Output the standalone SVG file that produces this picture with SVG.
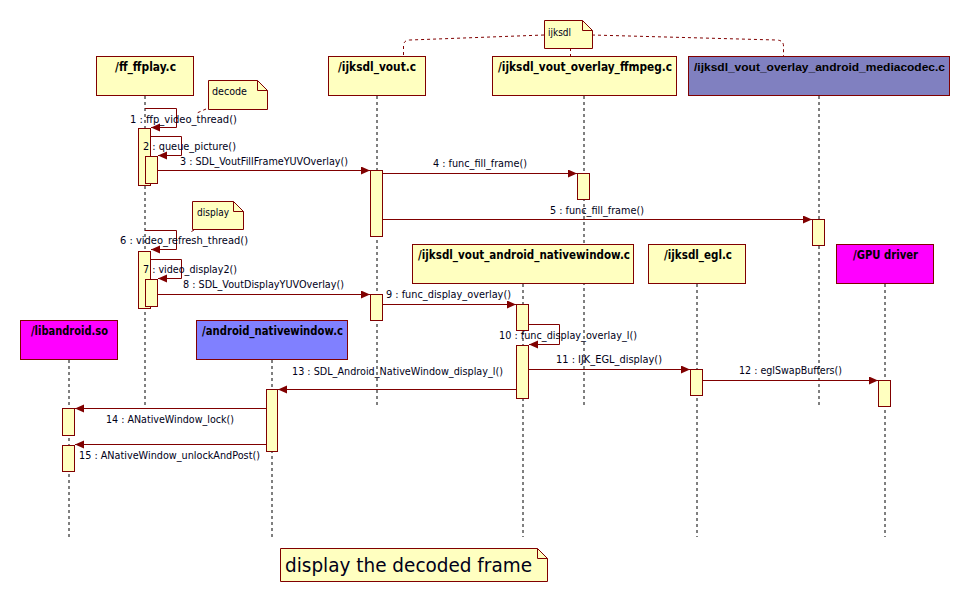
<svg xmlns="http://www.w3.org/2000/svg" width="970" height="602" viewBox="0 0 970 602">
<defs>
<marker id="ah" markerUnits="userSpaceOnUse" markerWidth="10" markerHeight="10" refX="9" refY="4" orient="auto">
<path d="M0,0 L9,4 L0,8 z" fill="#800000"/>
</marker>
<style>
.hdr{stroke:#800000;stroke-width:1}
.y{fill:#FFFFC0}
.mc{fill:#8080C0}
.an{fill:#8080FF}
.mg{fill:#FF00FF}
.ht{font-family:Tahoma,"DejaVu Sans","Liberation Sans",sans-serif;font-weight:bold;font-size:12px;fill:#000}
.hs{font-family:"Liberation Sans",Arial,sans-serif;font-size:11px}
.ll{stroke:#000;stroke-width:1;stroke-dasharray:3,3;fill:none}
.act{fill:#FFFFC0;stroke:#800000;stroke-width:1}
.msg{stroke:#800000;stroke-width:1;fill:none;marker-end:url(#ah)}
.lb{font-family:Tahoma,"DejaVu Sans","Liberation Sans",sans-serif;font-size:11px;fill:#000018}
.note{fill:#FFFFC0;stroke:#800000;stroke-width:1}
.nl{stroke:#800000;stroke-width:1;stroke-dasharray:3,3;fill:none}
</style>
</defs>
<rect width="970" height="602" fill="#fff"/>

<g id="lifelines">
<line class="ll" x1="145" y1="96" x2="145" y2="405"/>
<line class="ll" x1="377" y1="96" x2="377" y2="405"/>
<line class="ll" x1="584" y1="96" x2="584" y2="405"/>
<line class="ll" x1="819" y1="96" x2="819" y2="405"/>
<line class="ll" x1="523" y1="284" x2="523" y2="537"/>
<line class="ll" x1="697" y1="284" x2="697" y2="537"/>
<line class="ll" x1="885" y1="284" x2="885" y2="537"/>
<line class="ll" x1="69" y1="360" x2="69" y2="537"/>
<line class="ll" x1="272" y1="360" x2="272" y2="537"/>
</g>

<g id="n_ffplay"><rect class="hdr y" x="96.5" y="56.5" width="97" height="39"/><text class="ht" x="115" y="71" textLength="61" lengthAdjust="spacingAndGlyphs">/ff_ffplay.c</text></g>
<g id="n_vout"><rect class="hdr y" x="328.5" y="56.5" width="97" height="39"/><text class="ht" x="338" y="71" textLength="78" lengthAdjust="spacingAndGlyphs">/ijksdl_vout.c</text></g>
<g id="n_ffmpeg"><rect class="hdr y" x="492.5" y="56.5" width="184" height="39"/><text class="ht" x="498" y="71" textLength="174" lengthAdjust="spacingAndGlyphs">/ijksdl_vout_overlay_ffmpeg.c</text></g>
<g id="n_mediacodec"><rect class="hdr mc" x="688.5" y="56.5" width="261" height="39"/><text class="ht hs" x="694" y="71" textLength="251" lengthAdjust="spacingAndGlyphs">/ijksdl_vout_overlay_android_mediacodec.c</text></g>
<g id="n_nativewindow"><rect class="hdr y" x="412.5" y="244.5" width="221" height="39"/><text class="ht" x="418" y="259" textLength="212" lengthAdjust="spacingAndGlyphs">/ijksdl_vout_android_nativewindow.c</text></g>
<g id="n_egl"><rect class="hdr y" x="648.5" y="244.5" width="97" height="39"/><text class="ht" x="664" y="259" textLength="68" lengthAdjust="spacingAndGlyphs">/ijksdl_egl.c</text></g>
<g id="n_gpu"><rect class="hdr mg" x="836.5" y="244.5" width="97" height="39"/><text class="ht" x="853" y="259" textLength="65" lengthAdjust="spacingAndGlyphs">/GPU driver</text></g>
<g id="n_libandroid"><rect class="hdr mg" x="20.5" y="320.5" width="97" height="39"/><text class="ht" x="31" y="335" textLength="77" lengthAdjust="spacingAndGlyphs">/libandroid.so</text></g>
<g id="n_android_nativewindow"><rect class="hdr an" x="196.5" y="320.5" width="151" height="39"/><text class="ht" x="202" y="335" textLength="141" lengthAdjust="spacingAndGlyphs">/android_nativewindow.c</text></g>

<g id="note_ijksdl">
<path class="note" d="M544.5,20.5 H582.5 L592.5,30.5 V48.5 H544.5 Z"/>
<path d="M582.5,20.5 V30.5 H592.5" fill="none" stroke="#800000"/>
<text class="lb" x="548" y="36" textLength="23" lengthAdjust="spacingAndGlyphs">ijksdl</text>
</g>
<g id="note_decode">
<path class="note" d="M208.5,80.5 H257.5 L267.5,90.5 V109.5 H208.5 Z"/>
<path d="M257.5,80.5 V90.5 H267.5" fill="none" stroke="#800000"/>
<text class="lb" x="212" y="95" textLength="35" lengthAdjust="spacingAndGlyphs">decode</text>
</g>
<g id="note_display">
<path class="note" d="M192.5,201.5 H233.5 L243.5,211.5 V229.5 H192.5 Z"/>
<path d="M233.5,201.5 V211.5 H243.5" fill="none" stroke="#800000"/>
<text class="lb" x="197" y="216" textLength="32" lengthAdjust="spacingAndGlyphs">display</text>
</g>
<g id="note_frame">
<path class="note" d="M280.5,548.5 H537.5 L547.5,558.5 V581.5 H280.5 Z"/>
<path d="M537.5,548.5 V558.5 H547.5" fill="none" stroke="#800000"/>
<text x="285" y="572" font-family="Tahoma,'DejaVu Sans','Liberation Sans',sans-serif" font-size="19" fill="#000018" textLength="247" lengthAdjust="spacingAndGlyphs">display the decoded frame</text>
</g>

<g id="note_links">
<path class="nl" d="M544,35 L410,40 Q403.5,40 403.5,46 V56"/>
<path class="nl" d="M592,35 L776,40 Q783.5,40 783.5,46 V56"/>
<path class="nl" d="M570.5,48 V56"/>
<path class="nl" d="M206,109 L197,113"/>
<path class="nl" d="M194,230 L189,233"/>
</g>

<g id="activations">
<rect class="act" x="138.5" y="128.5" width="12" height="57"/>
<rect class="act" x="145.5" y="156.5" width="12" height="27"/>
<rect class="act" x="370.5" y="170.5" width="12" height="66"/>
<rect class="act" x="577.5" y="173.5" width="12" height="26"/>
<rect class="act" x="812.5" y="219.5" width="12" height="26"/>
<rect class="act" x="138.5" y="251.5" width="12" height="57"/>
<rect class="act" x="145.5" y="279.5" width="12" height="27"/>
<rect class="act" x="370.5" y="294.5" width="12" height="26"/>
<rect class="act" x="516.5" y="304.5" width="12" height="26"/>
<rect class="act" x="516.5" y="345.5" width="12" height="53"/>
<rect class="act" x="690.5" y="369.5" width="12" height="26"/>
<rect class="act" x="878.5" y="380.5" width="12" height="26"/>
<rect class="act" x="266.5" y="389.5" width="11" height="62"/>
<rect class="act" x="62.5" y="408.5" width="12" height="27"/>
<rect class="act" x="62.5" y="445.5" width="12" height="26"/>
</g>

<g id="connectors">
<path class="msg" d="M145,108.5 H176.5 V127.5 H151"/>
<path class="msg" d="M151,136.5 H181.5 V155.5 H158"/>
<path class="msg" d="M158,170.5 H370"/>
<path class="msg" d="M383,173.5 H577"/>
<path class="msg" d="M383,219.5 H812"/>
<path class="msg" d="M145,230.5 H176.5 V249.5 H151"/>
<path class="msg" d="M151,259.5 H181.5 V278.5 H158"/>
<path class="msg" d="M158,294.5 H370"/>
<path class="msg" d="M383,304.5 H516"/>
<path class="msg" d="M529,324.5 H559.5 V344.5 H529"/>
<path class="msg" d="M529,369.5 H690"/>
<path class="msg" d="M703,380.5 H878"/>
<path class="msg" d="M516,389.5 H278"/>
<path class="msg" d="M266,408.5 H75"/>
<path class="msg" d="M266,444.5 H75"/>
</g>

<g id="labels">
<text class="lb" x="130" y="123" textLength="107" lengthAdjust="spacingAndGlyphs">1 : ffp_video_thread()</text>
<text class="lb" x="143" y="150" textLength="93" lengthAdjust="spacingAndGlyphs">2 : queue_picture()</text>
<text class="lb" x="180" y="165" textLength="168" lengthAdjust="spacingAndGlyphs">3 : SDL_VoutFillFrameYUVOverlay()</text>
<text class="lb" x="433" y="167" textLength="94" lengthAdjust="spacingAndGlyphs">4 : func_fill_frame()</text>
<text class="lb" x="550" y="214" textLength="94" lengthAdjust="spacingAndGlyphs">5 : func_fill_frame()</text>
<text class="lb" x="120" y="244" textLength="128" lengthAdjust="spacingAndGlyphs">6 : video_refresh_thread()</text>
<text class="lb" x="143" y="273" textLength="94" lengthAdjust="spacingAndGlyphs">7 : video_display2()</text>
<text class="lb" x="183" y="288" textLength="161" lengthAdjust="spacingAndGlyphs">8 : SDL_VoutDisplayYUVOverlay()</text>
<text class="lb" x="386" y="298" textLength="125" lengthAdjust="spacingAndGlyphs">9 : func_display_overlay()</text>
<text class="lb" x="499" y="339" textLength="138" lengthAdjust="spacingAndGlyphs">10 : func_display_overlay_l()</text>
<text class="lb" x="556" y="363" textLength="106" lengthAdjust="spacingAndGlyphs">11 : IJK_EGL_display()</text>
<text class="lb" x="739" y="374" textLength="103" lengthAdjust="spacingAndGlyphs">12 : eglSwapBuffers()</text>
<text class="lb" x="292" y="375" textLength="211" lengthAdjust="spacingAndGlyphs">13 : SDL_Android_NativeWindow_display_l()</text>
<text class="lb" x="106" y="423" textLength="128" lengthAdjust="spacingAndGlyphs">14 : ANativeWindow_lock()</text>
<text class="lb" x="79" y="459" textLength="181" lengthAdjust="spacingAndGlyphs">15 : ANativeWindow_unlockAndPost()</text>
</g>
</svg>
